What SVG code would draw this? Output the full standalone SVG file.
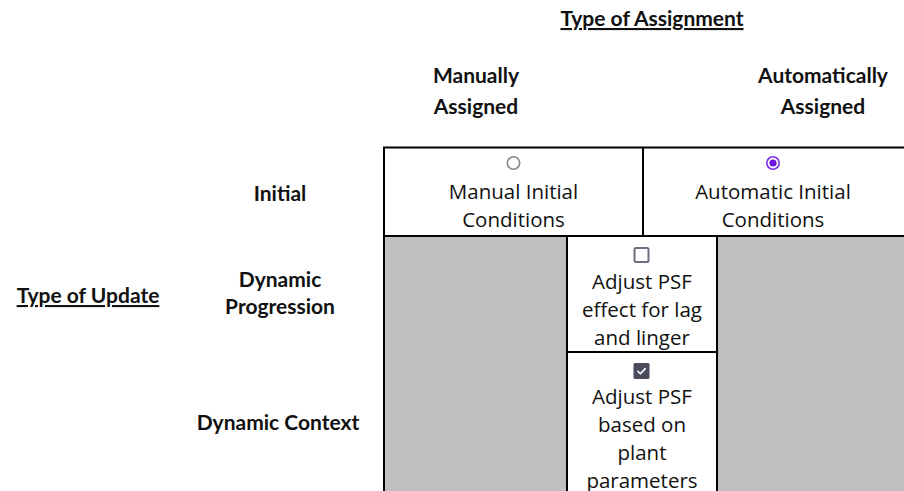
<svg xmlns="http://www.w3.org/2000/svg" width="904" height="491" viewBox="0 0 904 491">
  <style>
    .hdr { font-family: Lato, "Open Sans", "Liberation Sans", sans-serif; font-weight: bold; font-size: 21px; fill: #111; text-anchor: middle; }
    .ul { text-decoration: underline; }
    .cell { font-family: "Open Sans", "Noto Sans", "Liberation Sans", sans-serif; font-size: 20.5px; fill: #111; text-anchor: middle; }
    .grid { stroke: #000; stroke-width: 2; fill: none; }
    .shade { fill: #bfbfbf; }
  </style>

  <rect width="904" height="491" fill="#fff"/>

  <!-- axis titles -->
  <g id="axis-assignment">
    <text class="hdr ul" x="652" y="26">Type of Assignment</text>
  </g>
  <g id="axis-update">
    <text class="hdr ul" x="88" y="303">Type of Update</text>
  </g>

  <!-- column headers -->
  <g id="col-manual">
    <text class="hdr" x="476" y="83">Manually</text>
    <text class="hdr" x="476" y="114">Assigned</text>
  </g>
  <g id="col-automatic">
    <text class="hdr" x="823" y="83">Automatically</text>
    <text class="hdr" x="823" y="114">Assigned</text>
  </g>

  <!-- row headers -->
  <g id="row-initial">
    <text class="hdr" x="280" y="201">Initial</text>
  </g>
  <g id="row-progression">
    <text class="hdr" x="280" y="287">Dynamic</text>
    <text class="hdr" x="280" y="314">Progression</text>
  </g>
  <g id="row-context">
    <text class="hdr" x="278" y="430">Dynamic Context</text>
  </g>

  <!-- shaded (not applicable) cells -->
  <g id="shaded-cells">
    <rect class="shade" x="385" y="237" width="182" height="254"/>
    <rect class="shade" x="717" y="237" width="187" height="254"/>
  </g>

  <!-- table rules -->
  <g id="grid">
    <path class="grid" d="M384 147.5 H904 M384 146.5 V491 M643 147 V236 M384 236 H904 M567 236 V491 M717 236 V491 M567 352 H717"/>
  </g>

  <!-- Manual Initial Conditions (radio, unselected) -->
  <g id="cell-manual-initial">
    <circle cx="513.5" cy="163" r="6.2" fill="#fff" stroke="#8a8a8a" stroke-width="1.6"/>
    <text class="cell" x="513.5" y="199">Manual Initial</text>
    <text class="cell" x="513.5" y="227">Conditions</text>
  </g>

  <!-- Automatic Initial Conditions (radio, selected) -->
  <g id="cell-automatic-initial">
    <circle cx="773" cy="163" r="6.2" fill="#fff" stroke="#7a2ee8" stroke-width="1.6"/>
    <circle cx="773" cy="163" r="3.6" fill="#6a14e6"/>
    <text class="cell" x="773" y="199">Automatic Initial</text>
    <text class="cell" x="773" y="227">Conditions</text>
  </g>

  <!-- Lag and linger adjustment (checkbox, unchecked) -->
  <g id="cell-lag-linger">
    <rect x="634.5" y="248" width="14" height="14" rx="1.5" fill="#fff" stroke="#6e6e80" stroke-width="2"/>
    <text class="cell" x="642" y="289">Adjust PSF</text>
    <text class="cell" x="642" y="317">effect for lag</text>
    <text class="cell" x="642" y="345">and linger</text>
  </g>

  <!-- Plant parameter adjustment (checkbox, checked) -->
  <g id="cell-plant-parameters">
    <rect x="633.5" y="363" width="16" height="16" rx="1.5" fill="#4b4b5e"/>
    <path d="M637.8 371.2 L640.4 373.8 L645.2 368.6" fill="none" stroke="#fff" stroke-width="1.6" stroke-linecap="round" stroke-linejoin="round"/>
    <text class="cell" x="642" y="404">Adjust PSF</text>
    <text class="cell" x="642" y="432">based on</text>
    <text class="cell" x="642" y="460">plant</text>
    <text class="cell" x="642" y="488">parameters</text>
  </g>
</svg>
